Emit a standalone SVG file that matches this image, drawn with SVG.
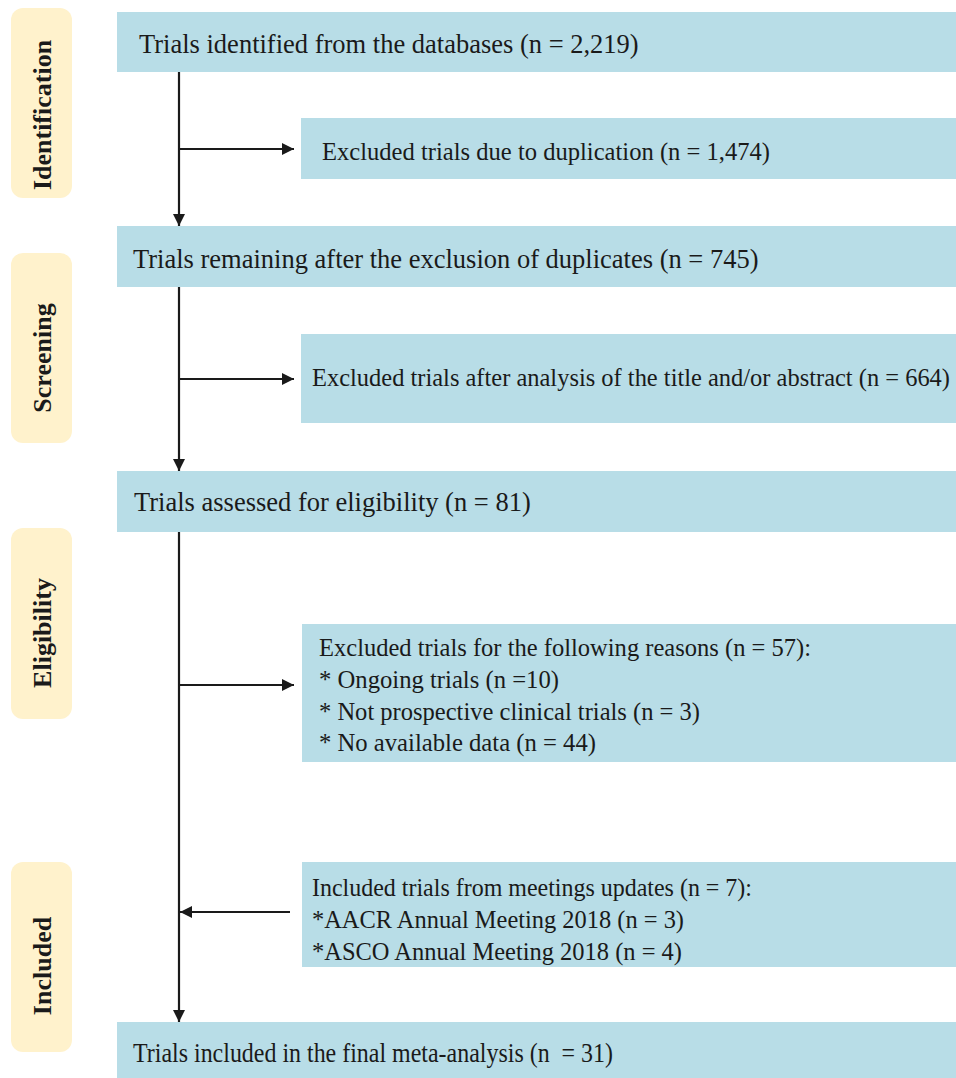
<svg xmlns="http://www.w3.org/2000/svg" width="956" height="1078" viewBox="0 0 956 1078">
<style>
.box{fill:#b8dde7;}
.stage{fill:#fff2cc;}
.t{font-family:"Liberation Serif","Times New Roman",serif;font-size:26.5px;fill:#1a1a1a;}
.r{font-family:"Liberation Serif","Times New Roman",serif;font-size:24.6px;fill:#1a1a1a;}
.s{font-family:"Liberation Serif","Times New Roman",serif;font-size:26px;font-weight:bold;fill:#1a1a1a;text-anchor:middle;}
.c{stroke:#1a1a1a;stroke-width:2.2;fill:none;marker-end:url(#ah);}
</style>
<defs>
<marker id="ah" markerUnits="userSpaceOnUse" markerWidth="13" markerHeight="13" viewBox="0 0 13 13" refX="12" refY="6.5" orient="auto">
<path d="M0,0.5 L12,6.5 L0,12.5 z" fill="#1a1a1a"/>
</marker>
</defs>
<rect width="956" height="1078" fill="#ffffff"/>
<g id="stage-identification"><rect class="stage" x="11" y="8" width="61" height="190" rx="12"/><text class="s" transform="translate(51,115) rotate(-90)">Identification</text></g>
<g id="stage-screening"><rect class="stage" x="11" y="253" width="61" height="190" rx="12"/><text class="s" transform="translate(51,358) rotate(-90)">Screening</text></g>
<g id="stage-eligibility"><rect class="stage" x="11" y="528" width="61" height="191" rx="12"/><text class="s" transform="translate(51,633) rotate(-90)">Eligibility</text></g>
<g id="stage-included"><rect class="stage" x="11" y="862" width="61" height="190" rx="12"/><text class="s" transform="translate(51,966) rotate(-90)">Included</text></g>

<g id="n-identified"><rect class="box" x="117" y="12" width="839" height="60"/><text class="t" x="139" y="53">Trials identified from the databases (n = 2,219)</text></g>
<g id="n-duplicates"><rect class="box" x="301" y="118" width="655" height="61"/><text class="r" x="322" y="160" textLength="448" lengthAdjust="spacingAndGlyphs">Excluded trials due to duplication (n = 1,474)</text></g>
<g id="n-remaining"><rect class="box" x="117" y="226" width="839" height="61"/><text class="t" x="133" y="268">Trials remaining after the exclusion of duplicates (n = 745)</text></g>
<g id="n-excl-title"><rect class="box" x="301" y="334" width="655" height="89"/><text class="r" x="312" y="386" textLength="638" lengthAdjust="spacingAndGlyphs">Excluded trials after analysis of the title and/or abstract (n = 664)</text></g>
<g id="n-assessed"><rect class="box" x="117" y="471" width="839" height="61"/><text class="t" x="134" y="511">Trials assessed for eligibility (n = 81)</text></g>
<g id="n-excl-reasons"><rect class="box" x="302" y="624" width="654" height="138"/>
<text class="r" x="319" y="656" textLength="492" lengthAdjust="spacingAndGlyphs">Excluded trials for the following reasons (n = 57):</text>
<text class="r" x="319" y="688" textLength="240" lengthAdjust="spacingAndGlyphs">* Ongoing trials (n =10)</text>
<text class="r" x="319" y="720" textLength="381" lengthAdjust="spacingAndGlyphs">* Not prospective clinical trials (n = 3)</text>
<text class="r" x="319" y="751" textLength="277" lengthAdjust="spacingAndGlyphs">* No available data (n = 44)</text></g>
<g id="n-meetings"><rect class="box" x="302" y="862" width="654" height="105"/>
<text class="r" x="312" y="896" textLength="440" lengthAdjust="spacingAndGlyphs">Included trials from meetings updates (n = 7):</text>
<text class="r" x="312" y="928" textLength="372" lengthAdjust="spacingAndGlyphs">*AACR Annual Meeting 2018 (n = 3)</text>
<text class="r" x="312" y="960" textLength="370" lengthAdjust="spacingAndGlyphs">*ASCO Annual Meeting 2018 (n = 4)</text></g>
<g id="n-final"><rect class="box" x="117" y="1022" width="839" height="56"/><text class="t" x="133" y="1062" textLength="480" lengthAdjust="spacingAndGlyphs">Trials included in the final meta-analysis (n&#160; = 31)</text></g>

<g id="connectors">
<line class="c" x1="179" y1="72" x2="179" y2="226"/>
<line class="c" x1="179" y1="287" x2="179" y2="471"/>
<line class="c" x1="179" y1="532" x2="179" y2="1022"/>
<line class="c" x1="179" y1="149" x2="294" y2="149"/>
<line class="c" x1="179" y1="379" x2="294" y2="379"/>
<line class="c" x1="179" y1="685" x2="294" y2="685"/>
<line class="c" x1="290" y1="912" x2="180" y2="912"/>
</g>
</svg>
